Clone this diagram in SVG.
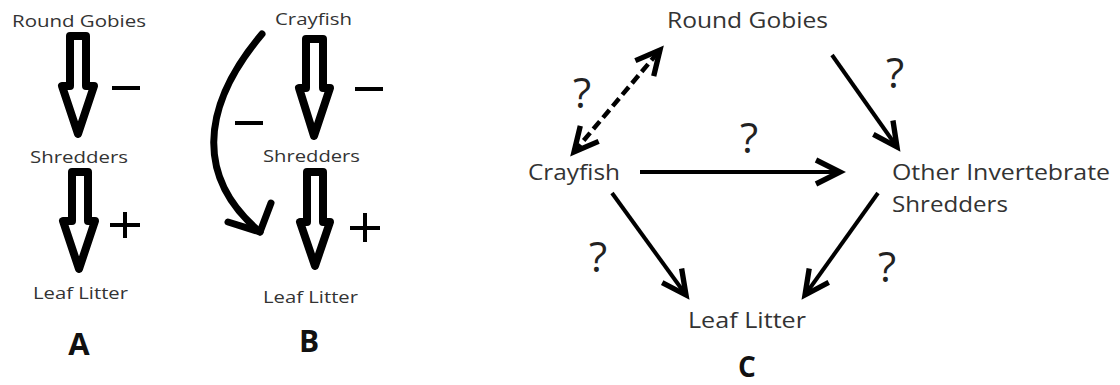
<svg xmlns="http://www.w3.org/2000/svg" width="1120" height="385" viewBox="0 0 1120 385">
<style>
.lbl{font-family:"Open Sans","Liberation Sans",sans-serif;fill:#333;}
.s{font-size:17px;}
.m{font-size:22px;}
.q{font-family:"Open Sans","Liberation Sans",sans-serif;font-size:42px;fill:#222;text-anchor:middle;}
.big{font-family:"Open Sans","Liberation Sans",sans-serif;font-weight:bold;fill:#111;text-anchor:middle;}
.hollow{fill:none;stroke:#000;stroke-width:8;stroke-linejoin:round;}
.sign{stroke:#000;stroke-width:4;fill:none;}
.ln{stroke:#000;stroke-width:4;fill:none;}
.dash{stroke-width:4.5;stroke-dasharray:10 5;}
.curve{stroke:#000;stroke-width:7;fill:none;stroke-linecap:round;stroke-linejoin:round;}
</style>
<defs>
<marker id="ah" markerUnits="userSpaceOnUse" markerWidth="40" markerHeight="40" refX="0" refY="0" viewBox="-25 -15 30 30" orient="auto-start-reverse" overflow="visible">
<path d="M-18,-9 L0,0 L-18,9" fill="none" stroke="#000" stroke-width="4" stroke-linejoin="miter"/>
</marker>
</defs>
<rect width="1120" height="385" fill="#fff"/>

<!-- Panel A -->
<g id="a-round-gobies"><text class="lbl s" x="12" y="27" textLength="134" lengthAdjust="spacingAndGlyphs">Round Gobies</text></g>
<g id="a-shredders"><text class="lbl s" x="30" y="163" textLength="98" lengthAdjust="spacingAndGlyphs">Shredders</text></g>
<g id="a-leaf-litter"><text class="lbl s" x="33" y="299" textLength="95" lengthAdjust="spacingAndGlyphs">Leaf Litter</text></g>
<g id="a-label"><text class="big" x="79" y="355" font-size="31">A</text></g>

<!-- Panel B -->
<g id="b-crayfish"><text class="lbl s" x="275" y="25" textLength="77" lengthAdjust="spacingAndGlyphs">Crayfish</text></g>
<g id="b-shredders"><text class="lbl s" x="263" y="162" textLength="97" lengthAdjust="spacingAndGlyphs">Shredders</text></g>
<g id="b-leaf-litter"><text class="lbl s" x="263" y="303" textLength="95" lengthAdjust="spacingAndGlyphs">Leaf Litter</text></g>
<g id="b-label"><text class="big" x="309" y="352" font-size="30">B</text></g>

<!-- Panel C -->
<g id="c-round-gobies"><text class="lbl m" x="667" y="28" textLength="161" lengthAdjust="spacingAndGlyphs">Round Gobies</text></g>
<g id="c-crayfish"><text class="lbl m" x="528" y="180" textLength="92" lengthAdjust="spacingAndGlyphs">Crayfish</text></g>
<g id="c-other-shredders">
<text class="lbl m" x="892" y="180" textLength="218" lengthAdjust="spacingAndGlyphs">Other Invertebrate</text>
<text class="lbl m" x="892" y="212" textLength="116" lengthAdjust="spacingAndGlyphs">Shredders</text>
</g>
<g id="c-leaf-litter"><text class="lbl m" x="688" y="328" textLength="118" lengthAdjust="spacingAndGlyphs">Leaf Litter</text></g>
<g id="c-label"><text class="big" x="747" y="377" font-size="28">C</text></g>

<g id="connectors">
<!-- Panel A hollow arrows -->
<polygon class="hollow" points="70,36 86,36 86,86 94,86 78,134 62,86 70,86"/>
<polygon class="hollow" points="72,172 88,172 88,221 95,221 79,269 63,221 72,221"/>
<path class="sign" d="M112,88 H140"/>
<path class="sign" d="M110,225 H140 M125,212 V238"/>
<!-- Panel B hollow arrows -->
<polygon class="hollow" points="306,39 323,39 323,88 330,88 314,136 299,88 306,88"/>
<polygon class="hollow" points="307,172 323,172 323,222 330,222 315,266 300,222 307,222"/>
<path class="sign" d="M355,89 H383"/>
<path class="sign" d="M350,228 H380 M365,213 V242"/>
<path class="curve" d="M262,34 C198,110 198,180 260,232"/>
<polyline class="curve" points="228,222 260,232 271,203"/>
<path class="sign" d="M235,123 H263"/>
<!-- Panel C arrows -->
<path class="ln dash" d="M574,152 L660,50" marker-start="url(#ah)" marker-end="url(#ah)"/>
<path class="ln" d="M640,172 L840,172" marker-end="url(#ah)"/>
<path class="ln" d="M832,55 L897,147" marker-end="url(#ah)"/>
<path class="ln" d="M612,193 L686,295" marker-end="url(#ah)"/>
<path class="ln" d="M878,193 L805,295" marker-end="url(#ah)"/>
<text class="q" x="582" y="108">?</text>
<text class="q" x="749" y="153">?</text>
<text class="q" x="895" y="88">?</text>
<text class="q" x="598" y="272">?</text>
<text class="q" x="887" y="282">?</text>
</g>
</svg>
